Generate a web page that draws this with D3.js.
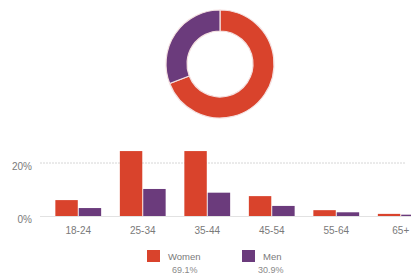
<!DOCTYPE html>
<html>
<head>
<meta charset="utf-8">
<script src="https://cdn.jsdelivr.net/npm/d3@7"></script>
<style>
  html, body { margin: 0; padding: 0; background: #fff; }
  text { font-family: "Liberation Sans", Arial, sans-serif; }
</style>
</head>
<body>
<div id="chart"></div>
<script>
// data
const genders = ["Women", "Men"];
const genderShare = [69.1, 30.9];
const ageGroups = ["18-24", "25-34", "35-44", "45-54", "55-64", "65+"];
const womenPct = [6.0, 24.5, 24.5, 7.5, 2.2, 0.8];
const menPct = [3.0, 10.2, 8.8, 3.8, 1.4, 0.5];
const yTicks = [0, 20];

const width = 411, height = 279;
const colors = { Women: "#d9432c", Men: "#6b3b7c" };

const svg = d3.select("#chart").append("svg")
  .attr("width", width)
  .attr("height", height);

// donut
const outerRadius = 54, innerRadius = 33;
const donut = svg.append("g").attr("transform", "translate(220,64)");

const pie = d3.pie().sort(null).value((d) => d.value);
const arc = d3.arc().innerRadius(innerRadius).outerRadius(outerRadius);
const shareData = genders.map((g, i) => ({ label: g, value: genderShare[i] }));

donut.selectAll("path")
  .data(pie(shareData))
  .enter()
  .append("path")
  .attr("d", arc)
  .attr("fill", (d) => colors[d.data.label])
  .attr("stroke", "#f4e0e0")
  .attr("stroke-width", 1.2);

// bar chart
const x = d3.scaleBand()
  .domain(ageGroups)
  .range([46, 433])
  .paddingInner(0.29)
  .paddingOuter(0.145);

const xInner = d3.scaleBand()
  .domain(genders)
  .range([0, x.bandwidth()])
  .paddingInner(0.04);

const y = d3.scaleLinear().domain([0, 20]).range([216, 163]);

// gridline at 20%
svg.append("line")
  .attr("x1", 40).attr("x2", 405)
  .attr("y1", y(20)).attr("y2", y(20))
  .attr("stroke", "#d6d6d6")
  .attr("stroke-dasharray", "2,1")
  .attr("stroke-width", 1);

const rows = ageGroups.map((a, i) => ({ age: a, Women: womenPct[i], Men: menPct[i] }));

const groups = svg.selectAll("g.age")
  .data(rows)
  .enter()
  .append("g")
  .attr("class", "age")
  .attr("transform", (d) => "translate(" + x(d.age) + ",0)");

groups.selectAll("rect")
  .data((d) => genders.map((g) => ({ key: g, value: d[g] })))
  .enter()
  .append("rect")
  .attr("x", (d) => xInner(d.key))
  .attr("width", xInner.bandwidth())
  .attr("y", (d) => y(d.value))
  .attr("height", (d) => y(0) - y(d.value))
  .attr("fill", (d) => colors[d.key]);

// baseline
svg.append("line")
  .attr("x1", 40).attr("x2", 411)
  .attr("y1", y(0) + 0.5).attr("y2", y(0) + 0.5)
  .attr("stroke", "#e2e2e2");

// y labels
svg.selectAll("text.ytick")
  .data(yTicks)
  .enter()
  .append("text")
  .attr("class", "ytick")
  .attr("x", 32)
  .attr("y", (d) => y(d) + 7)
  .attr("text-anchor", "end")
  .attr("font-size", 10)
  .attr("fill", "#7a7a7a")
  .text((d) => d + "%");

// x labels
svg.selectAll("text.xtick")
  .data(ageGroups)
  .enter()
  .append("text")
  .attr("class", "xtick")
  .attr("x", (d) => x(d) + x.bandwidth() / 2)
  .attr("y", 234)
  .attr("text-anchor", "middle")
  .attr("font-size", 10)
  .attr("fill", "#7a7a7a")
  .text((d) => d);

// legend
const legendX = [147, 242];
const legend = svg.selectAll("g.legend")
  .data(genders)
  .enter()
  .append("g")
  .attr("class", "legend")
  .attr("transform", (d, i) => "translate(" + legendX[i] + ",250)");

legend.append("rect")
  .attr("width", 13)
  .attr("height", 12)
  .attr("fill", (d) => colors[d]);

legend.append("text")
  .attr("x", 21)
  .attr("y", 10)
  .attr("font-size", 9.5)
  .attr("fill", "#7a7a7a")
  .text((d) => d);

legend.append("text")
  .attr("x", (d, i) => (i === 0 ? 25 : 16))
  .attr("y", 23)
  .attr("font-size", 9)
  .attr("fill", "#8a8a8a")
  .text((d, i) => genderShare[i] + "%");
</script>
</body>
</html>
